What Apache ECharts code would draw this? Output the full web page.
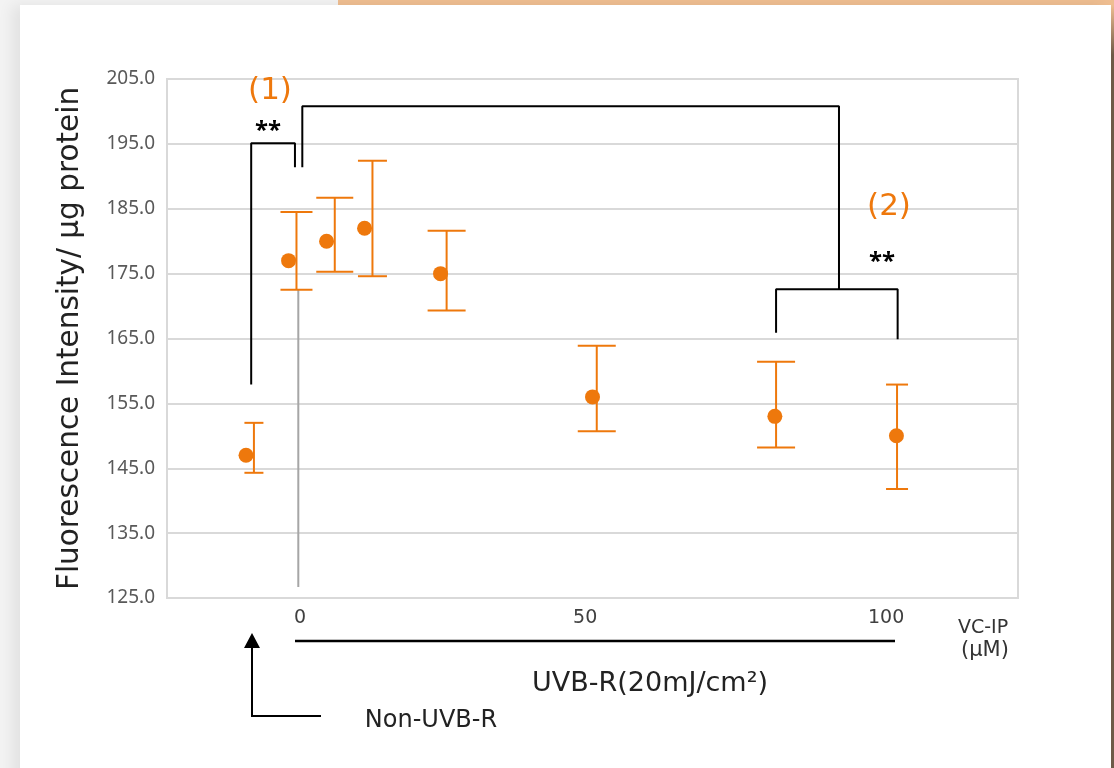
<!DOCTYPE html>
<html>
<head>
<meta charset="utf-8">
<script src="https://cdn.jsdelivr.net/npm/echarts@6/dist/echarts.min.js"></script>
<style>
  html, body { margin: 0; padding: 0; width: 1114px; height: 768px; overflow: hidden; background: #f3f3f3; }
  #strip { position: absolute; left: 338px; top: 0; width: 776px; height: 5px; background: #EFBE91; }
  #card { position: absolute; left: 20px; top: 5px; width: 1091px; height: 800px; background: #ffffff; box-shadow: -8px 0 14px rgba(0,0,0,0.07); }
  #edge { position: absolute; left: 1111px; top: 5px; width: 3px; height: 763px; background: linear-gradient(#EFBE91, #6e5a48 50px, #6e5a48); }
  #chart { position: absolute; left: 0; top: 0; width: 1114px; height: 768px; }
</style>
</head>
<body>
<div id="strip"></div>
<div id="card"></div>
<div id="edge"></div>
<div id="chart"></div>
<script>
// ---- data ----
const categories = ['Non-UVB-R', '0', '6.25', '12.5', '25', '50', '80', '100'];
const xPos      = [-7, 0, 6.25, 12.5, 25, 50, 80, 100];
const means     = [147.0, 177.0, 180.0, 182.0, 175.0, 156.0, 153.0, 150.0];
const errX      = [-5.7, 1.3, 7.6, 13.8, 26.0, 50.7, 80.2, 100.1];
const errLow    = [144.3, 172.5, 175.3, 174.6, 169.3, 150.7, 148.2, 141.8];
const errHigh   = [152.0, 184.5, 186.7, 192.4, 181.6, 163.9, 161.4, 157.9];
const yMin = 125, yMax = 205, yStep = 10;
const xMin = -20, xMax = 120;
const xTickLabels = ['0', '50', '100'];
const xTickPos    = [1.9, 48.8, 98.3];
// significance brackets (data coordinates)
const bracket1 = [[-6.15, 157.9], [-6.15, 195.1], [1.05, 195.1], [1.05, 191.4]];
const bracket2 = [[2.26, 191.4], [2.26, 200.8], [90.55, 200.8], [90.55, 172.6]];
const bracket3 = [[80.2, 165.9], [80.2, 172.6], [100.2, 172.6], [100.2, 164.9]];
const dropLine = [[1.6, 172.5], [1.6, 126.7]];
// style (not data)
const capWidths = [19, 32, 37, 29, 38, 38, 38, 22];

const ORANGE = '#EE780C';
const FONT = '"Noto Sans", sans-serif';
const WIDE = '"DejaVu Sans", sans-serif';

const chart = echarts.init(document.getElementById('chart'), null, { renderer: 'canvas' });

function bracketSeries(pts) {
  return {
    type: 'line', data: pts, symbol: 'none', clip: false, silent: true, z: 5,
    lineStyle: { color: '#000', width: 2 }, animation: false
  };
}

const option = {
  animation: false,
  backgroundColor: 'transparent',
  grid: { left: 167, right: 96, top: 79, bottom: 170, show: true, borderColor: '#d9d9d9', borderWidth: 2 },
  xAxis: {
    type: 'value', min: xMin, max: xMax,
    axisLine: { show: true, lineStyle: { color: '#d9d9d9', width: 2 } },
    axisTick: { show: false },
    splitLine: { show: false },
    axisLabel: {
      customValues: xTickPos,
      formatter: (v) => { const i = xTickPos.findIndex(p => Math.abs(p - v) < 1e-6); return i >= 0 ? xTickLabels[i] : ''; },
      color: '#404040', fontSize: 19, fontFamily: WIDE, margin: 11
    }
  },
  yAxis: {
    type: 'value', min: yMin, max: yMax, interval: yStep,
    name: 'Fluorescence Intensity/ μg protein',
    nameLocation: 'middle', nameGap: 82, nameRotate: 90,
    nameTextStyle: { color: '#222', fontSize: 29.5, fontFamily: WIDE },
    axisLine: { show: false }, axisTick: { show: false },
    splitLine: { lineStyle: { color: '#d9d9d9', width: 2 } },
    axisLabel: { formatter: v => v.toFixed(1), color: '#595959', fontSize: 19, fontFamily: FONT, margin: 12 }
  },
  series: [
    {
      type: 'line', data: dropLine, symbol: 'none', silent: true, z: 1,
      lineStyle: { color: '#a6a6a6', width: 2 }
    },
    {
      type: 'custom', z: 3, silent: true,
      data: errX.map((x, i) => [x, errLow[i], errHigh[i], capWidths[i]]),
      renderItem: (params, api) => {
        const x = api.value(0), lo = api.value(1), hi = api.value(2), cw = api.value(3) / 2;
        const pLo = api.coord([x, lo]), pHi = api.coord([x, hi]);
        const st = { stroke: ORANGE, lineWidth: 2 };
        return { type: 'group', children: [
          { type: 'line', shape: { x1: pHi[0], y1: pHi[1], x2: pLo[0], y2: pLo[1] }, style: st },
          { type: 'line', shape: { x1: pHi[0] - cw, y1: pHi[1], x2: pHi[0] + cw, y2: pHi[1] }, style: st },
          { type: 'line', shape: { x1: pLo[0] - cw, y1: pLo[1], x2: pLo[0] + cw, y2: pLo[1] }, style: st }
        ]};
      }
    },
    {
      type: 'scatter', z: 4, symbol: 'circle', symbolSize: 15,
      data: xPos.map((x, i) => [x, means[i], categories[i]]),
      itemStyle: { color: ORANGE, opacity: 1 }
    },
    bracketSeries(bracket1),
    bracketSeries(bracket2),
    bracketSeries(bracket3)
  ],
  graphic: [
    { type: 'text', x: 270, y: 91, z: 10, style: { text: '(1)', fill: ORANGE, font: '31px ' + WIDE, align: 'center', verticalAlign: 'middle' } },
    { type: 'text', x: 889, y: 207, z: 10, style: { text: '(2)', fill: ORANGE, font: '31px ' + WIDE, align: 'center', verticalAlign: 'middle' } },
    { type: 'text', x: 268, y: 131, style: { text: '**', fill: '#000', font: 'bold 24px ' + FONT, align: 'center', verticalAlign: 'middle' } },
    { type: 'text', x: 882, y: 262, style: { text: '**', fill: '#000', font: 'bold 24px ' + FONT, align: 'center', verticalAlign: 'middle' } },
    // bottom group line
    { type: 'line', shape: { x1: 295, y1: 641, x2: 895, y2: 641 }, style: { stroke: '#000', lineWidth: 2.5 } },
    { type: 'text', x: 650, y: 684, style: { text: 'UVB-R(20mJ/cm²)', fill: '#222', font: '27px ' + WIDE, align: 'center', verticalAlign: 'middle' } },
    { type: 'text', x: 983, y: 628, style: { text: 'VC-IP', fill: '#333', font: '19px ' + WIDE, align: 'center', verticalAlign: 'middle' } },
    { type: 'text', x: 985, y: 651, style: { text: '(μM)', fill: '#333', font: '21px ' + WIDE, align: 'center', verticalAlign: 'middle' } },
    // arrow to non-UVB point
    { type: 'polyline', shape: { points: [[252, 647], [252, 716], [321, 716]] }, style: { stroke: '#000', lineWidth: 2, fill: null } },
    { type: 'polygon', shape: { points: [[252, 633], [244, 648], [260, 648]] }, style: { fill: '#000' } },
    { type: 'text', x: 431, y: 721, style: { text: 'Non-UVB-R', fill: '#222', font: '24px ' + WIDE, align: 'center', verticalAlign: 'middle' } }
  ]
};
chart.setOption(option);
</script>
</body>
</html>
